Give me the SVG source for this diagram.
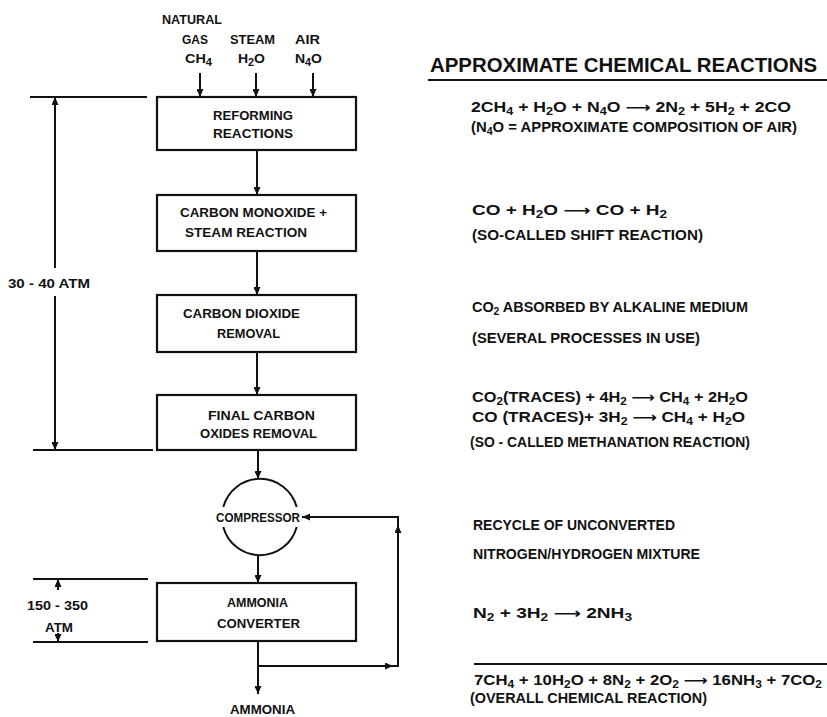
<svg xmlns="http://www.w3.org/2000/svg" width="827" height="717" viewBox="0 0 827 717">
<defs>
<marker id="ah" markerUnits="userSpaceOnUse" markerWidth="8" markerHeight="7" refX="8" refY="3.5" orient="auto">
<path d="M0,0 L8,3.5 L0,7 z" fill="#111"/>
</marker>
<style>
.ln{stroke:#111;stroke-width:2;fill:none}
.bx{stroke:#111;stroke-width:2.2;fill:#fff}
.t{font-family:"Liberation Sans",Arial,sans-serif;font-weight:bold;font-size:13px;fill:#111}
.r{font-family:"Liberation Sans",Arial,sans-serif;font-weight:bold;font-size:14px;fill:#111}
.s{font-size:10px}
.a{font-family:"DejaVu Sans",sans-serif;font-weight:bold}
</style>
</defs>
<rect width="827" height="717" fill="#fff"/>

<g id="connectors">
<line class="ln" x1="200" y1="73" x2="200" y2="97" marker-end="url(#ah)"/>
<line class="ln" x1="256" y1="73" x2="256" y2="97" marker-end="url(#ah)"/>
<line class="ln" x1="313" y1="73" x2="313" y2="97" marker-end="url(#ah)"/>
<line class="ln" x1="257" y1="150" x2="257" y2="195" marker-end="url(#ah)"/>
<line class="ln" x1="257" y1="251" x2="257" y2="295" marker-end="url(#ah)"/>
<line class="ln" x1="257" y1="352" x2="257" y2="395" marker-end="url(#ah)"/>
<line class="ln" x1="258" y1="450" x2="258" y2="479" marker-end="url(#ah)"/>
<line class="ln" x1="258" y1="555" x2="258" y2="583" marker-end="url(#ah)"/>
<line class="ln" x1="258" y1="641" x2="258" y2="694" marker-end="url(#ah)"/>
<line class="ln" x1="257" y1="666" x2="393" y2="666" marker-end="url(#ah)"/>
<path class="ln" d="M390,666 H398 V525" marker-end="url(#ah)"/>
<path class="ln" d="M398,527 V517 H302" marker-end="url(#ah)"/>
</g>

<g id="dim-30-40">
<line class="ln" x1="30" y1="97" x2="147" y2="97"/>
<line class="ln" x1="33" y1="450" x2="153" y2="450"/>
<line class="ln" x1="55" y1="268" x2="55" y2="97" marker-end="url(#ah)"/>
<line class="ln" x1="55" y1="296" x2="55" y2="450" marker-end="url(#ah)"/>
<text class="t" x="8" y="288" textLength="82" lengthAdjust="spacingAndGlyphs">30 - 40 ATM</text>
</g>

<g id="dim-150-350">
<line class="ln" x1="33" y1="579" x2="148" y2="579"/>
<line class="ln" x1="33" y1="642" x2="148" y2="642"/>
<line class="ln" x1="58" y1="590" x2="58" y2="579" marker-end="url(#ah)"/>
<line class="ln" x1="58" y1="633" x2="58" y2="642" marker-end="url(#ah)"/>
<text class="t" x="27" y="610" textLength="61" lengthAdjust="spacingAndGlyphs">150 - 350</text>
<text class="t" x="45" y="632" textLength="28" lengthAdjust="spacingAndGlyphs">ATM</text>
</g>

<g id="inputs">
<text class="t" x="162" y="24" textLength="60" lengthAdjust="spacingAndGlyphs">NATURAL</text>
<text class="t" x="182" y="44" textLength="26" lengthAdjust="spacingAndGlyphs">GAS</text>
<text class="t" x="185" y="63" textLength="27" lengthAdjust="spacingAndGlyphs">CH<tspan class="s" dy="3">4</tspan></text>
<text class="t" x="230" y="44" textLength="45" lengthAdjust="spacingAndGlyphs">STEAM</text>
<text class="t" x="238" y="63" textLength="27" lengthAdjust="spacingAndGlyphs">H<tspan class="s" dy="3">2</tspan><tspan dy="-3">O</tspan></text>
<text class="t" x="295" y="44" textLength="25" lengthAdjust="spacingAndGlyphs">AIR</text>
<text class="t" x="295" y="63" textLength="27" lengthAdjust="spacingAndGlyphs">N<tspan class="s" dy="3">4</tspan><tspan dy="-3">O</tspan></text>
</g>

<g id="reforming">
<rect class="bx" x="157" y="97" width="199" height="53"/>
<text class="t" x="213" y="120" textLength="80" lengthAdjust="spacingAndGlyphs">REFORMING</text>
<text class="t" x="213" y="138" textLength="80" lengthAdjust="spacingAndGlyphs">REACTIONS</text>
</g>

<g id="shift">
<rect class="bx" x="157" y="195" width="199" height="56"/>
<text class="t" x="180" y="217" textLength="147" lengthAdjust="spacingAndGlyphs">CARBON MONOXIDE +</text>
<text class="t" x="185" y="237" textLength="122" lengthAdjust="spacingAndGlyphs">STEAM REACTION</text>
</g>

<g id="co2-removal">
<rect class="bx" x="157" y="295" width="199" height="57"/>
<text class="t" x="183" y="318" textLength="117" lengthAdjust="spacingAndGlyphs">CARBON DIOXIDE</text>
<text class="t" x="217" y="338" textLength="63" lengthAdjust="spacingAndGlyphs">REMOVAL</text>
</g>

<g id="final-removal">
<rect class="bx" x="157" y="395" width="199" height="55"/>
<text class="t" x="208" y="420" textLength="107" lengthAdjust="spacingAndGlyphs">FINAL CARBON</text>
<text class="t" x="200" y="438" textLength="117" lengthAdjust="spacingAndGlyphs">OXIDES REMOVAL</text>
</g>

<g id="compressor">
<path class="ln" d="M223.3,507 A38,38 0 0 1 296.7,507"/>
<path class="ln" d="M223.3,527 A38,38 0 0 0 296.7,527"/>
<text class="t" x="216" y="522" textLength="84" lengthAdjust="spacingAndGlyphs">COMPRESSOR</text>
</g>

<g id="converter">
<rect class="bx" x="157" y="583" width="199" height="58"/>
<text class="t" x="227" y="607" textLength="61" lengthAdjust="spacingAndGlyphs">AMMONIA</text>
<text class="t" x="217" y="628" textLength="83" lengthAdjust="spacingAndGlyphs">CONVERTER</text>
</g>

<g id="ammonia-out">
<text class="t" x="230" y="714" textLength="65" lengthAdjust="spacingAndGlyphs">AMMONIA</text>
</g>

<g id="reactions">
<text class="r" x="430" y="72" style="font-size:20px" textLength="387" lengthAdjust="spacingAndGlyphs">APPROXIMATE  CHEMICAL  REACTIONS</text>
<line class="ln" x1="428" y1="80" x2="827" y2="80"/>
<text class="r" x="471" y="112" textLength="320" lengthAdjust="spacingAndGlyphs">2CH<tspan class="s" dy="3">4</tspan><tspan dy="-3"> + H</tspan><tspan class="s" dy="3">2</tspan><tspan dy="-3">O + N</tspan><tspan class="s" dy="3">4</tspan><tspan dy="-3">O </tspan><tspan class="a">⟶</tspan> 2N<tspan class="s" dy="3">2</tspan><tspan dy="-3"> + 5H</tspan><tspan class="s" dy="3">2</tspan><tspan dy="-3"> + 2CO</tspan></text>
<text class="r" x="471" y="132" textLength="326" lengthAdjust="spacingAndGlyphs">(N<tspan class="s" dy="3">4</tspan><tspan dy="-3">O = APPROXIMATE COMPOSITION OF AIR)</tspan></text>
<text class="r" x="472" y="215" textLength="195" lengthAdjust="spacingAndGlyphs">CO + H<tspan class="s" dy="3">2</tspan><tspan dy="-3">O </tspan><tspan class="a">⟶</tspan>  CO  + H<tspan class="s" dy="3">2</tspan></text>
<text class="r" x="472" y="240" textLength="231" lengthAdjust="spacingAndGlyphs">(SO-CALLED SHIFT REACTION)</text>
<text class="r" x="472" y="312" textLength="276" lengthAdjust="spacingAndGlyphs">CO<tspan class="s" dy="3">2</tspan><tspan dy="-3">  ABSORBED BY ALKALINE MEDIUM</tspan></text>
<text class="r" x="472" y="343" textLength="228" lengthAdjust="spacingAndGlyphs">(SEVERAL PROCESSES IN USE)</text>
<text class="r" x="472" y="402" textLength="276" lengthAdjust="spacingAndGlyphs">CO<tspan class="s" dy="3">2</tspan><tspan dy="-3">(TRACES) + 4H</tspan><tspan class="s" dy="3">2</tspan><tspan dy="-3"> </tspan><tspan class="a">⟶</tspan> CH<tspan class="s" dy="3">4</tspan><tspan dy="-3"> + 2H</tspan><tspan class="s" dy="3">2</tspan><tspan dy="-3">O</tspan></text>
<text class="r" x="472" y="422" textLength="273" lengthAdjust="spacingAndGlyphs">CO (TRACES)+ 3H<tspan class="s" dy="3">2</tspan><tspan dy="-3"> </tspan><tspan class="a">⟶</tspan> CH<tspan class="s" dy="3">4</tspan><tspan dy="-3"> + H</tspan><tspan class="s" dy="3">2</tspan><tspan dy="-3">O</tspan></text>
<text class="r" x="470" y="447" textLength="280" lengthAdjust="spacingAndGlyphs">(SO - CALLED METHANATION REACTION)</text>
<text class="r" x="473" y="530" textLength="202" lengthAdjust="spacingAndGlyphs">RECYCLE OF UNCONVERTED</text>
<text class="r" x="473" y="559" textLength="227" lengthAdjust="spacingAndGlyphs">NITROGEN/HYDROGEN MIXTURE</text>
<text class="r" x="473" y="618" textLength="159" lengthAdjust="spacingAndGlyphs">N<tspan class="s" dy="3">2</tspan><tspan dy="-3">  +  3H</tspan><tspan class="s" dy="3">2</tspan><tspan dy="-3"> </tspan><tspan class="a">⟶</tspan> 2NH<tspan class="s" dy="3">3</tspan></text>
<line class="ln" x1="474" y1="664" x2="827" y2="664"/>
<text class="r" x="474" y="685" textLength="348" lengthAdjust="spacingAndGlyphs">7CH<tspan class="s" dy="3">4</tspan><tspan dy="-3"> + 10H</tspan><tspan class="s" dy="3">2</tspan><tspan dy="-3">O + 8N</tspan><tspan class="s" dy="3">2</tspan><tspan dy="-3"> + 2O</tspan><tspan class="s" dy="3">2</tspan><tspan dy="-3"> </tspan><tspan class="a">⟶</tspan> 16NH<tspan class="s" dy="3">3</tspan><tspan dy="-3"> + 7CO</tspan><tspan class="s" dy="3">2</tspan></text>
<text class="r" x="470" y="703" textLength="237" lengthAdjust="spacingAndGlyphs">(OVERALL CHEMICAL REACTION)</text>
</g>
</svg>
